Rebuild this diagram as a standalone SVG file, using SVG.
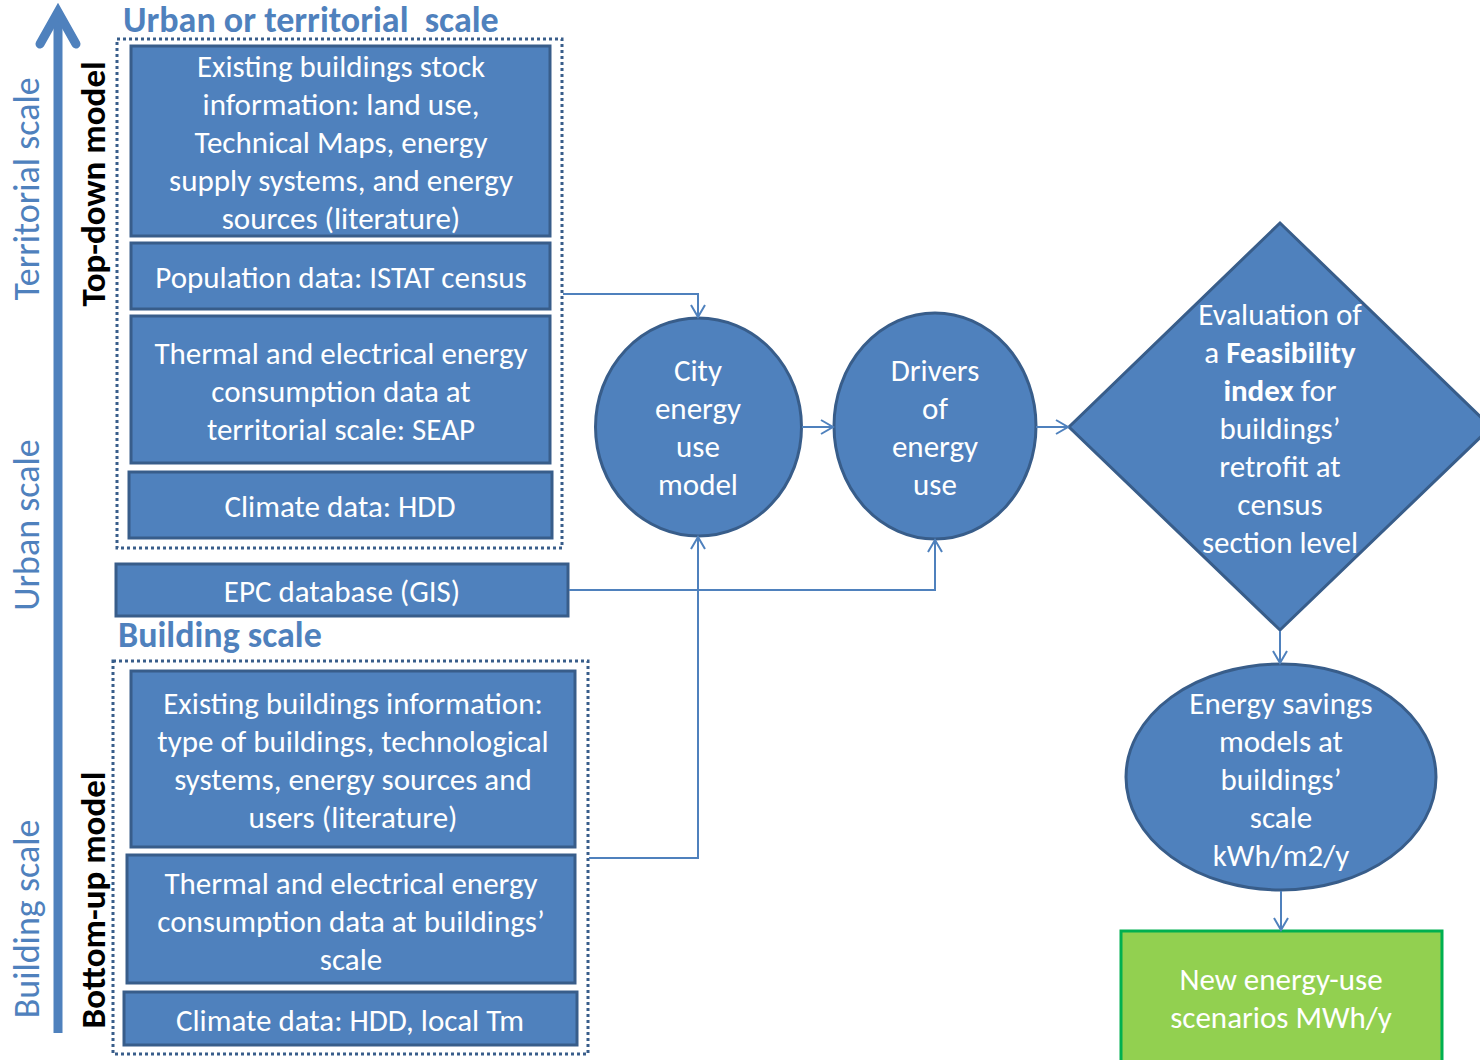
<svg xmlns="http://www.w3.org/2000/svg" width="1480" height="1060" viewBox="0 0 1480 1060">
<style>
.box{fill:#4F81BD;stroke:#385D8A;stroke-width:3}
.t{font-family:Carlito,Lato,"Liberation Sans",sans-serif;font-size:31px;fill:#ffffff;text-anchor:middle;dominant-baseline:central}
.b{font-weight:bold}
.frame{fill:none;stroke:#385D8A;stroke-width:3;stroke-dasharray:3 3}
.scale{font-family:Carlito,Lato,"Liberation Sans",sans-serif;font-size:36px;fill:#4F81BD;text-anchor:middle;dominant-baseline:central}
.model{font-family:Carlito,Lato,"Liberation Sans",sans-serif;font-size:35px;font-weight:bold;fill:#000000;text-anchor:middle;dominant-baseline:central}
.head{font-family:Carlito,Lato,"Liberation Sans",sans-serif;font-size:36px;font-weight:bold;fill:#4F81BD}
.conn{fill:none;stroke:#4F81BD;stroke-width:2;marker-end:url(#arr)}
</style>
<defs>
<marker id="arr" markerUnits="userSpaceOnUse" markerWidth="16" markerHeight="16" refX="13" refY="8" orient="auto">
<path d="M1,1 L13,8 L1,15" fill="none" stroke="#4F81BD" stroke-width="2"/>
</marker>
</defs>
<rect width="1480" height="1060" fill="#ffffff"/>

<g id="axis">
<line x1="58" y1="1033" x2="58" y2="12" stroke="#4F81BD" stroke-width="9"/>
<path d="M40,44 L58,12 L76,44" fill="none" stroke="#4F81BD" stroke-width="9" stroke-linecap="round" stroke-linejoin="miter"/>
<text class="scale" transform="translate(27,189) rotate(-90)">Territorial scale</text>
<text class="scale" transform="translate(27,525) rotate(-90)">Urban scale</text>
<text class="scale" transform="translate(27,919) rotate(-90)">Building scale</text>
<text class="model" transform="translate(93,184) rotate(-90)">Top-down model</text>
<text class="model" transform="translate(93,900) rotate(-90)">Bottom-up model</text>
</g>

<g id="titles">
<text class="head" x="123" y="32" xml:space="preserve">Urban or territorial  scale</text>
<text class="head" x="118" y="647">Building scale</text>
</g>

<g id="frame-top"><rect class="frame" x="117" y="39" width="445" height="509"/></g>
<g id="frame-bottom"><rect class="frame" x="113" y="661" width="475" height="393"/></g>

<g id="n-stock">
<rect class="box" x="131" y="46" width="419" height="190"/>
<text class="t" x="341" y="66">Existing buildings stock</text>
<text class="t" x="341" y="104">information: land use,</text>
<text class="t" x="341" y="142">Technical Maps, energy</text>
<text class="t" x="341" y="180">supply systems, and energy</text>
<text class="t" x="341" y="218">sources (literature)</text>
</g>
<g id="n-population">
<rect class="box" x="131" y="243" width="419" height="66"/>
<text class="t" x="341" y="277">Population data: ISTAT census</text>
</g>
<g id="n-seap">
<rect class="box" x="131" y="316" width="419" height="147"/>
<text class="t" x="341" y="353">Thermal and electrical energy</text>
<text class="t" x="341" y="391">consumption data at</text>
<text class="t" x="341" y="429">territorial scale: SEAP</text>
</g>
<g id="n-climate1">
<rect class="box" x="129" y="472" width="423" height="66"/>
<text class="t" x="340" y="506">Climate data: HDD</text>
</g>
<g id="n-epc">
<rect class="box" x="116" y="564" width="452" height="52"/>
<text class="t" x="342" y="591">EPC database (GIS)</text>
</g>
<g id="n-buildings">
<rect class="box" x="131" y="671" width="444" height="176"/>
<text class="t" x="353" y="703">Existing buildings information:</text>
<text class="t" x="353" y="741">type of buildings, technological</text>
<text class="t" x="353" y="779">systems, energy sources and</text>
<text class="t" x="353" y="817">users (literature)</text>
</g>
<g id="n-consumption">
<rect class="box" x="127" y="855" width="448" height="128"/>
<text class="t" x="351" y="883">Thermal and electrical energy</text>
<text class="t" x="351" y="921">consumption data at buildings’</text>
<text class="t" x="351" y="959">scale</text>
</g>
<g id="n-climate2">
<rect class="box" x="124" y="992" width="453" height="53"/>
<text class="t" x="350" y="1020">Climate data: HDD, local Tm</text>
</g>

<g id="n-city">
<ellipse class="box" cx="698.5" cy="427" rx="103" ry="109"/>
<text class="t" x="698" y="370">City</text>
<text class="t" x="698" y="408">energy</text>
<text class="t" x="698" y="446">use</text>
<text class="t" x="698" y="484">model</text>
</g>
<g id="n-drivers">
<ellipse class="box" cx="935" cy="426" rx="101" ry="113"/>
<text class="t" x="935" y="370">Drivers</text>
<text class="t" x="935" y="408">of</text>
<text class="t" x="935" y="446">energy</text>
<text class="t" x="935" y="484">use</text>
</g>
<g id="n-feasibility">
<polygon class="box" points="1280,223 1491,427 1280,630 1069,427"/>
<text class="t" x="1280" y="314">Evaluation of</text>
<text class="t" x="1280" y="352">a <tspan class="b">Feasibility</tspan></text>
<text class="t" x="1280" y="390"><tspan class="b">index</tspan> for</text>
<text class="t" x="1280" y="428">buildings’</text>
<text class="t" x="1280" y="466">retrofit at</text>
<text class="t" x="1280" y="504">census</text>
<text class="t" x="1280" y="542">section level</text>
</g>
<g id="n-savings">
<ellipse class="box" cx="1281" cy="777" rx="155" ry="113"/>
<text class="t" x="1281" y="703">Energy savings</text>
<text class="t" x="1281" y="741">models at</text>
<text class="t" x="1281" y="779">buildings’</text>
<text class="t" x="1281" y="817">scale</text>
<text class="t" x="1281" y="855">kWh/m2/y</text>
</g>
<g id="n-scenarios">
<rect x="1121" y="931" width="321" height="140" fill="#92D050" stroke="#00B050" stroke-width="3"/>
<text class="t" x="1281" y="979">New energy-use</text>
<text class="t" x="1281" y="1017">scenarios MWh/y</text>
</g>

<g id="connectors">
<path class="conn" d="M563,294 L698,294 L698,317"/>
<path class="conn" d="M802,427 L833,427"/>
<path class="conn" d="M1036,427 L1068,427"/>
<path class="conn" d="M569,590 L935,590 L935,540"/>
<path class="conn" d="M589,858 L698,858 L698,537"/>
<path class="conn" d="M1280,631 L1280,663"/>
<path class="conn" d="M1281,891 L1281,930"/>
</g>
</svg>
